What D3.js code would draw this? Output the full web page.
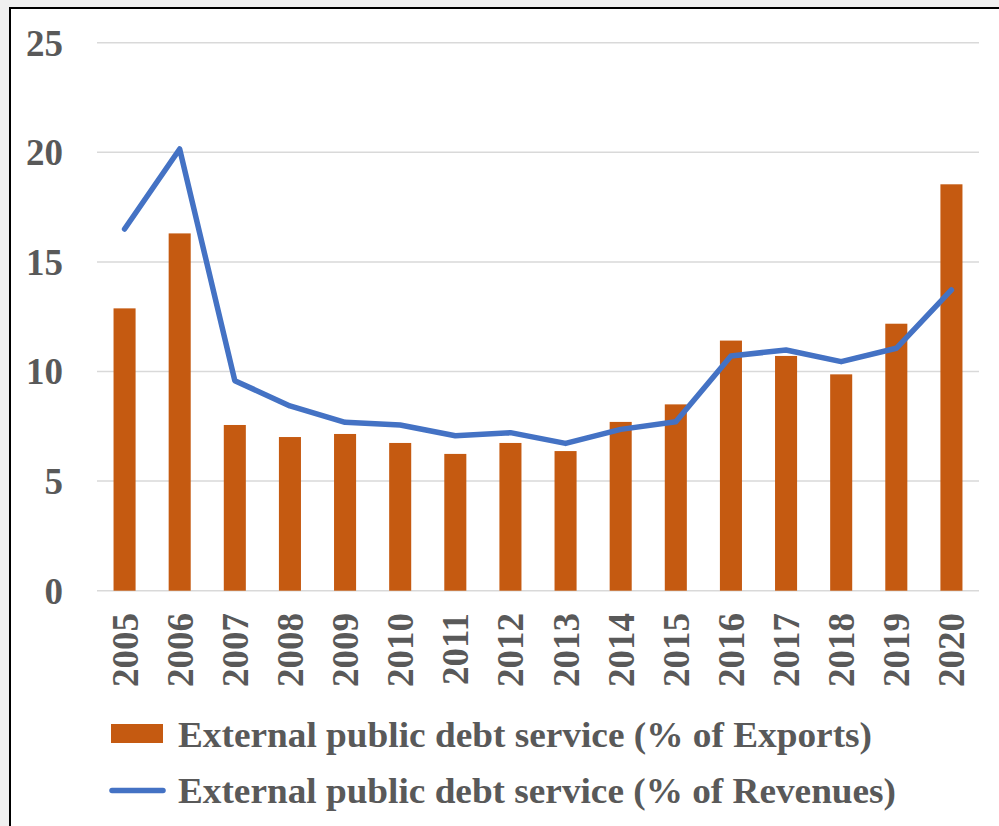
<!DOCTYPE html>
<html lang="en">
<head>
    <meta charset="UTF-8">
    <title>External public debt service</title>
    <script src="https://d3js.org/d3.v7.min.js"></script>
    <style>
        body { margin: 0; background: #f0f0f0; }
        text {
            font-family: "Liberation Serif", "Times New Roman", serif;
            font-weight: bold;
            fill: #595959;
        }
        .grid line { stroke: #d9d9d9; stroke-width: 1.5px; }
    </style>
</head>
<body>
    <svg width="999" height="826"></svg>

    <script>
        // Data
        const years = ["2005", "2006", "2007", "2008", "2009", "2010", "2011", "2012",
                       "2013", "2014", "2015", "2016", "2017", "2018", "2019", "2020"];
        const pctExports = [12.88, 16.3, 7.56, 7.01, 7.15, 6.74, 6.24, 6.74,
                            6.37, 7.7, 8.5, 11.41, 10.71, 9.87, 12.18, 18.54];
        const pctRevenues = [16.5, 20.15, 9.58, 8.43, 7.68, 7.56, 7.07, 7.21,
                             6.72, 7.36, 7.71, 10.71, 10.98, 10.45, 11.06, 13.72];
        const yTicks = [0, 5, 10, 15, 20, 25];
        const legendLabels = ["External public debt service (% of Exports)",
                              "External public debt service (% of Revenues)"];
        const legendWidths = [694, 718];

        const svg = d3.select("svg");

        // White chart area with black frame
        svg.append("rect")
            .attr("x", 10).attr("y", 8)
            .attr("width", 1000).attr("height", 830)
            .attr("fill", "#fff")
            .attr("stroke", "#000")
            .attr("stroke-width", 2);

        const x = d3.scaleBand()
            .domain(years)
            .range([97, 979])
            .paddingInner(0.6)
            .paddingOuter(0.3);

        const y = d3.scaleLinear()
            .domain([0, 25])
            .range([590.7, 42.7]);

        // Gridlines
        svg.append("g")
            .attr("class", "grid")
            .selectAll("line")
            .data(yTicks)
            .enter().append("line")
            .attr("x1", 97).attr("x2", 979)
            .attr("y1", d => y(d)).attr("y2", d => y(d));

        // Y labels
        svg.append("g")
            .selectAll("text")
            .data(yTicks)
            .enter().append("text")
            .attr("x", 63)
            .attr("y", d => y(d))
            .attr("dy", "0.35em")
            .attr("text-anchor", "end")
            .attr("font-size", 37)
            .text(d => d);

        // Bars
        svg.append("g")
            .selectAll("rect")
            .data(years)
            .enter().append("rect")
            .attr("x", d => x(d))
            .attr("width", x.bandwidth())
            .attr("y", (d, i) => y(pctExports[i]))
            .attr("height", (d, i) => y(0) - y(pctExports[i]))
            .attr("fill", "#c55a11");

        // Line
        const line = d3.line()
            .x((d, i) => x(years[i]) + x.bandwidth() / 2)
            .y(d => y(d));

        svg.append("path")
            .datum(pctRevenues)
            .attr("d", line)
            .attr("fill", "none")
            .attr("stroke", "#4472c4")
            .attr("stroke-width", 5.5)
            .attr("stroke-linejoin", "round")
            .attr("stroke-linecap", "round");

        // X labels, rotated
        svg.append("g")
            .selectAll("text")
            .data(years)
            .enter().append("text")
            .attr("transform", d => `translate(${x(d) + x.bandwidth() / 2},613) rotate(-90)`)
            .attr("dy", "0.35em")
            .attr("text-anchor", "end")
            .attr("font-size", 37)
            .text(d => d);

        // Legend
        const legend = svg.append("g");
        legend.append("rect")
            .attr("x", 111).attr("y", 724)
            .attr("width", 52).attr("height", 19)
            .attr("fill", "#c55a11");
        legend.append("line")
            .attr("x1", 112).attr("x2", 163)
            .attr("y1", 790.5).attr("y2", 790.5)
            .attr("stroke", "#4472c4")
            .attr("stroke-width", 5.5)
            .attr("stroke-linecap", "round");
        legend.selectAll("text")
            .data(legendLabels)
            .enter().append("text")
            .attr("x", 178)
            .attr("y", (d, i) => 746.5 + i * 56)
            .attr("font-size", 36)
            .attr("textLength", (d, i) => legendWidths[i])
            .attr("lengthAdjust", "spacingAndGlyphs")
            .text(d => d);
    </script>
</body>
</html>
